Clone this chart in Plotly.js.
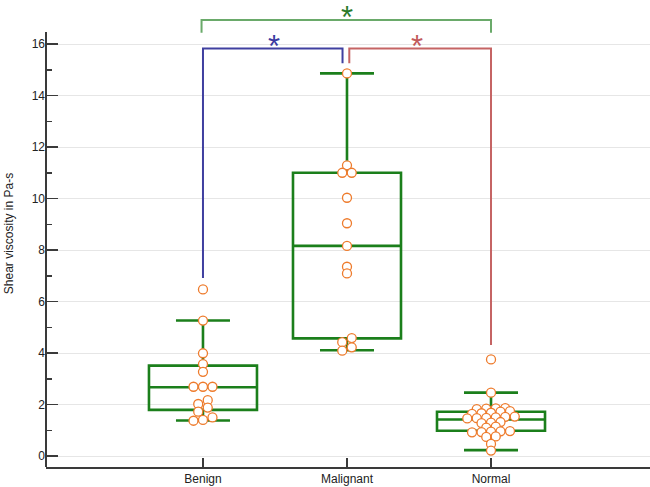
<!DOCTYPE html>
<html>
<head>
<meta charset="utf-8">
<script src="https://cdn.plot.ly/plotly-3.0.1.min.js"></script>
<style>
  html, body { margin: 0; padding: 0; background: #fff; }
  #chart { width: 650px; height: 487px; }
</style>
</head>
<body>
<div id="chart"></div>
<script>
// Groups on the x axis
const groups = ['Benign', 'Malignant', 'Normal'];

const benignValues = [6.47, 5.26, 3.99, 3.57, 3.27, 2.69, 2.69, 2.69, 2.17, 2.02, 1.88, 1.72, 1.50, 1.40, 1.37];
const malignantValues = [14.86, 11.29, 11.0, 11.0, 10.03, 9.04, 8.16, 7.35, 7.09, 4.58, 4.42, 4.22, 4.09];
const normalValues = [3.75, 2.46, 1.86, 1.85, 1.84, 1.82, 1.74, 1.72, 1.68, 1.66, 1.64, 1.53, 1.52, 1.50,
  1.48, 1.47, 1.46, 1.32, 1.30, 1.28, 1.14, 1.10, 0.97, 0.96, 0.95, 0.93, 0.92, 0.76, 0.74, 0.47, 0.21];

// Box statistics as drawn
const q1 = [1.79, 4.57, 0.98];
const medians = [2.67, 8.16, 1.42];
const q3 = [3.51, 11.0, 1.72];
const lowerWhisker = [1.38, 4.11, 0.23];
const upperWhisker = [5.26, 14.86, 2.46];

// Axis ticks
const yTicks = [0, 2, 4, 6, 8, 10, 12, 14, 16];
const yMinorTicks = [1, 3, 5, 7, 9, 11, 13, 15];

// plot geometry (used for dot spreading)
const W = 650, H = 487;
const M = { l: 46, r: 0, t: 0, b: 20 };
const xRange = [-1.09, 3.104];
const yRange = [-0.427, 17.71];
const pxPerX = (W - M.l - M.r) / (xRange[1] - xRange[0]);

// dot spreading: values close together share a row and are spread sideways
function spread(values, center, binH, stepPx) {
    const order = values.map((v, i) => i).sort((a, b) => values[a] - values[b]);
    const xs = new Array(values.length);
    let bins = [];
    let cur = null;
    order.forEach(i => {
        if (!cur || values[i] - values[cur[0]] > binH) {
            cur = [i];
            bins.push(cur);
        } else {
            cur.push(i);
        }
    });
    bins.forEach(b => {
        b.forEach((i, k) => {
            xs[i] = center + (k - (b.length - 1) / 2) * stepPx / pxPerX;
        });
    });
    return xs;
}

const allValues = [benignValues, malignantValues, normalValues];

const boxTrace = {
    type: 'box',
    x: [0, 1, 2],
    q1: q1,
    median: medians,
    q3: q3,
    lowerfence: lowerWhisker,
    upperfence: upperWhisker,
    width: 0.75,
    whiskerwidth: 0.5,
    boxpoints: false,
    fillcolor: 'rgba(0,0,0,0)',
    line: { color: '#1b7f1b', width: 2.6 },
    hoverinfo: 'skip',
    showlegend: false
};

const dotTraces = allValues.map((vals, g) => ({
    type: 'scatter',
    mode: 'markers',
    x: spread(vals, g, 0.165, 9.5),
    y: vals,
    marker: {
        size: 9,
        color: '#ffffff',
        line: { color: '#ee7b2c', width: 1.3 }
    },
    cliponaxis: false,
    showlegend: false
}));

// significance brackets
const brackets = [
    { pts: [[0, 6.91], [0, 15.83], [0.969, 15.83], [0.969, 15.25]], color: '#4040a0' },
    { pts: [[1.016, 15.25], [1.016, 15.83], [2.0, 15.83], [2.0, 4.31]], color: '#c56464' },
    { pts: [[-0.01, 16.44], [-0.01, 16.93], [2.0, 16.93], [2.0, 16.44]], color: '#6aaa6a' }
];
const shapes = brackets.map(b => ({
    type: 'path',
    xref: 'x', yref: 'y',
    path: 'M' + b.pts.map(p => p[0] + ',' + p[1]).join(' L'),
    line: { color: b.color, width: 2 }
}));
// y axis line only up to just above 16
shapes.push({
    type: 'line', xref: 'paper', yref: 'y',
    x0: 0, x1: 0, y0: yRange[0], y1: 16.47,
    line: { color: '#3a3a3a', width: 2 }
});

const stars = [
    { x: 1.0, y: 17.30, color: '#2a7a2a' },
    { x: 0.495, y: 16.19, color: '#3a3aa0' },
    { x: 1.486, y: 16.19, color: '#c25a5a' }
];
const annotations = stars.map(s => ({
    x: s.x, y: s.y, xref: 'x', yref: 'y',
    text: '*', showarrow: false,
    yanchor: 'middle', yshift: -7,
    font: { family: 'Liberation Sans, Arial, sans-serif', size: 31, color: s.color }
}));

const layout = {
    width: W, height: H,
    margin: { l: M.l, r: M.r, t: M.t, b: M.b, pad: 0 },
    paper_bgcolor: '#ffffff',
    plot_bgcolor: '#ffffff',
    font: { family: 'Liberation Sans, Arial, sans-serif', size: 12, color: '#222' },
    showlegend: false,
    xaxis: {
        range: xRange,
        tickvals: [0, 1, 2],
        ticktext: groups,
        ticks: 'inside', ticklen: 9, tickwidth: 1.5, tickcolor: '#3a3a3a',
        showline: true, linecolor: '#3a3a3a', linewidth: 2,
        showgrid: false, zeroline: false,
        tickfont: { size: 12, color: '#222' }
    },
    yaxis: {
        range: yRange,
        tickvals: yTicks,
        ticks: 'inside', ticklen: 12, tickwidth: 1.5, tickcolor: '#3a3a3a',
        showline: false, zeroline: false,
        showgrid: true, gridcolor: '#e6e6e6', gridwidth: 1,
        minor: { tickvals: yMinorTicks, ticks: 'inside', ticklen: 6, tickwidth: 1.5, tickcolor: '#3a3a3a', showgrid: false },
        tickfont: { size: 12, color: '#222' },
        title: { text: 'Shear viscosity in Pa-s', font: { size: 12, color: '#222' }, standoff: 15 }
    },
    shapes: shapes,
    annotations: annotations
};

Plotly.newPlot('chart', [boxTrace].concat(dotTraces), layout, { displayModeBar: false, staticPlot: true });
</script>
</body>
</html>
